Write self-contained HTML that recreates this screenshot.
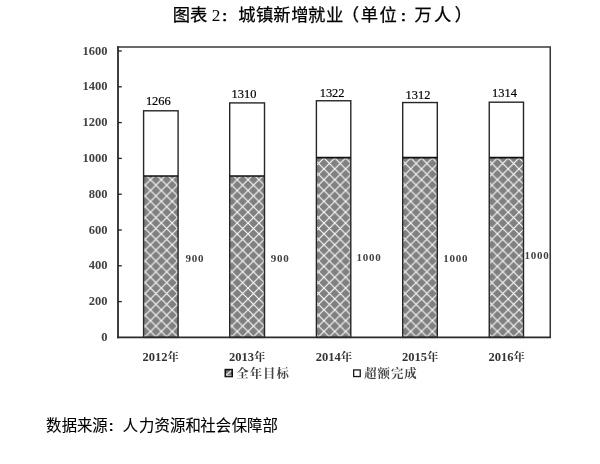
<!DOCTYPE html>
<html lang="zh-CN">
<head>
<meta charset="utf-8">
<title>图表 2：城镇新增就业（单位：万人）</title>
<style>
html,body{margin:0;padding:0;background:#fff;}
body{width:600px;height:464px;overflow:hidden;position:relative;}
svg{position:absolute;left:0;top:0;display:block;}
.ttl{font-family:"Liberation Serif","Noto Sans CJK SC",sans-serif;font-size:17.3px;fill:#000;stroke:#000;stroke-width:0.25px;}
.src{font-family:"Liberation Sans","Noto Sans CJK SC",sans-serif;font-size:15.4px;fill:#000;stroke:#000;stroke-width:0.1px;}
.ax{font-family:"Liberation Serif","Noto Serif CJK SC",serif;font-weight:bold;font-size:12.5px;fill:#424242;}
.yr{font-family:"Liberation Serif","Noto Serif CJK SC",serif;font-weight:bold;font-size:12.5px;fill:#333;}
.top{font-family:"Liberation Serif",serif;font-size:13.3px;fill:#000;stroke:#000;stroke-width:0.2px;}
.sd{font-family:"Liberation Serif",serif;font-weight:bold;font-size:11px;letter-spacing:0.75px;fill:#404040;}
.lg{font-family:"Liberation Serif","Noto Serif CJK SC",serif;font-size:12.4px;letter-spacing:1px;fill:#444;font-weight:700;}
</style>
</head>
<body>
<svg width="600" height="464" viewBox="0 0 600 464">
<defs>
<pattern id="hatch" x="9.58" y="6.26" width="10.84" height="10.84" patternUnits="userSpaceOnUse"><rect x="0" y="0" width="10.84" height="10.84" fill="#808080"/><path d="M0 0L10.84 10.84M10.84 0L0 10.84" stroke="#fcfcfc" stroke-width="1.12" fill="none" stroke-linecap="square"/></pattern>
</defs>
<rect x="0" y="0" width="600" height="464" fill="#fff"/>
<text class="ttl" x="172.75 190.12 204.96 211.80" y="21.4">图表 <tspan stroke="none">2</tspan></text><text class="ttl" font-weight="bold" transform="translate(220.93 20.58) scale(0.85 0.68)">：</text><text class="ttl" x="238.15 255.98 273.23 291.35 307.98 325.98 341.65 360.75 379.38" y="21.4">城镇新增就业（单位</text><text class="ttl" font-weight="bold" transform="translate(399.68 20.58) scale(0.85 0.68)">：</text><text class="ttl" x="414.60 434.02 454.65" y="21.4">万人）</text>
<path d="M117.2 46.9H550.25V337.4" fill="none" stroke="#3a3a3a" stroke-width="1.55"/>
<rect x="143.6" y="176.00" width="34.50" height="161.40" fill="url(#hatch)"/><rect x="143.6" y="110.79" width="34.50" height="226.61" fill="none" stroke="#262626" stroke-width="1.4"/><path d="M143.6 176.00H178.1" stroke="#111" stroke-width="1.7"/>
<rect x="229.7" y="176.00" width="34.80" height="161.40" fill="url(#hatch)"/><rect x="229.7" y="102.91" width="34.80" height="234.49" fill="none" stroke="#262626" stroke-width="1.4"/><path d="M229.7 176.00H264.5" stroke="#111" stroke-width="1.7"/>
<rect x="316.4" y="157.60" width="34.40" height="179.80" fill="url(#hatch)"/><rect x="316.4" y="100.76" width="34.40" height="236.64" fill="none" stroke="#262626" stroke-width="1.4"/><path d="M316.4 157.60H350.8" stroke="#111" stroke-width="1.7"/>
<rect x="402.7" y="157.60" width="34.60" height="179.80" fill="url(#hatch)"/><rect x="402.7" y="102.55" width="34.60" height="234.85" fill="none" stroke="#262626" stroke-width="1.4"/><path d="M402.7 157.60H437.3" stroke="#111" stroke-width="1.7"/>
<rect x="489.25" y="157.60" width="34.25" height="179.80" fill="url(#hatch)"/><rect x="489.25" y="102.19" width="34.25" height="235.21" fill="none" stroke="#262626" stroke-width="1.4"/><path d="M489.25 157.60H523.5" stroke="#111" stroke-width="1.7"/>
<path d="M118 46.2V338.25" stroke="#2a2a2a" stroke-width="1.8" fill="none"/><path d="M117.1 337.4H551" stroke="#2a2a2a" stroke-width="1.6" fill="none"/>
<text class="ax" x="107.4" y="340.90" text-anchor="end">0</text>
<path d="M118 301.60H121.8" stroke="#222" stroke-width="1.3"/><text class="ax" x="107.4" y="305.10" text-anchor="end">200</text>
<path d="M118 265.80H121.8" stroke="#222" stroke-width="1.3"/><text class="ax" x="107.4" y="269.30" text-anchor="end">400</text>
<path d="M118 230.00H121.8" stroke="#222" stroke-width="1.3"/><text class="ax" x="107.4" y="233.50" text-anchor="end">600</text>
<path d="M118 194.20H121.8" stroke="#222" stroke-width="1.3"/><text class="ax" x="107.4" y="197.70" text-anchor="end">800</text>
<path d="M118 158.40H121.8" stroke="#222" stroke-width="1.3"/><text class="ax" x="107.4" y="161.90" text-anchor="end">1000</text>
<path d="M118 122.60H121.8" stroke="#222" stroke-width="1.3"/><text class="ax" x="107.4" y="126.10" text-anchor="end">1200</text>
<path d="M118 86.80H121.8" stroke="#222" stroke-width="1.3"/><text class="ax" x="107.4" y="90.30" text-anchor="end">1400</text>
<path d="M118 51.00H121.8" stroke="#222" stroke-width="1.3"/><text class="ax" x="107.4" y="54.50" text-anchor="end">1600</text>
<text class="top" transform="translate(158.3 105.0) scale(0.935 1)" text-anchor="middle">1266</text><text class="sd" x="185.4" y="262.0">900</text>
<text class="top" transform="translate(244.0 98.3) scale(0.935 1)" text-anchor="middle">1310</text><text class="sd" x="270.8" y="262.0">900</text>
<text class="top" transform="translate(332.1 97.3) scale(0.935 1)" text-anchor="middle">1322</text><text class="sd" x="356.4" y="260.8">1000</text>
<text class="top" transform="translate(418.0 99.2) scale(0.935 1)" text-anchor="middle">1312</text><text class="sd" x="443.2" y="262.3">1000</text>
<text class="top" transform="translate(504.5 97.3) scale(0.935 1)" text-anchor="middle">1314</text><text class="sd" x="524.4" y="259.0">1000</text>
<text class="yr" x="142.6" y="361.1">2012<tspan font-size="11.3">年</tspan></text>
<text class="yr" x="229.1" y="361.1">2013<tspan font-size="11.3">年</tspan></text>
<text class="yr" x="315.7" y="361.1">2014<tspan font-size="11.3">年</tspan></text>
<text class="yr" x="402.0" y="361.1">2015<tspan font-size="11.3">年</tspan></text>
<text class="yr" x="488.6" y="361.1">2016<tspan font-size="11.3">年</tspan></text>
<g><rect x="225.3" y="369.6" width="6.9" height="6.9" fill="#808080" stroke="#111" stroke-width="1.6"/><path d="M226.4 375.2L231.2 370.6" stroke="#f4f4f4" stroke-width="1.1" fill="none"/><path d="M226.6 373.5V375.6H231.4" stroke="#d8d8d8" stroke-width="0.8" fill="none"/><text class="lg" x="236.3" y="378.2">全年目标</text><rect x="353.65" y="369.95" width="6.6" height="6.6" fill="#fff" stroke="#1c1c1c" stroke-width="1.3"/><text class="lg" x="364.2" y="378.2">超额完成</text></g>
<text class="src" x="45.88 61.78 76.97 92.22" y="431.05">数据来源</text><text class="src" font-weight="bold" transform="translate(107.78 430.8) scale(0.9 0.71)">：</text><text class="src" x="122.65 139.12 154.47 170.12 185.50 200.20 215.70 231.65 247.12 262.57" y="431.05">人力资源和社会保障部</text>
</svg>
</body>
</html>
